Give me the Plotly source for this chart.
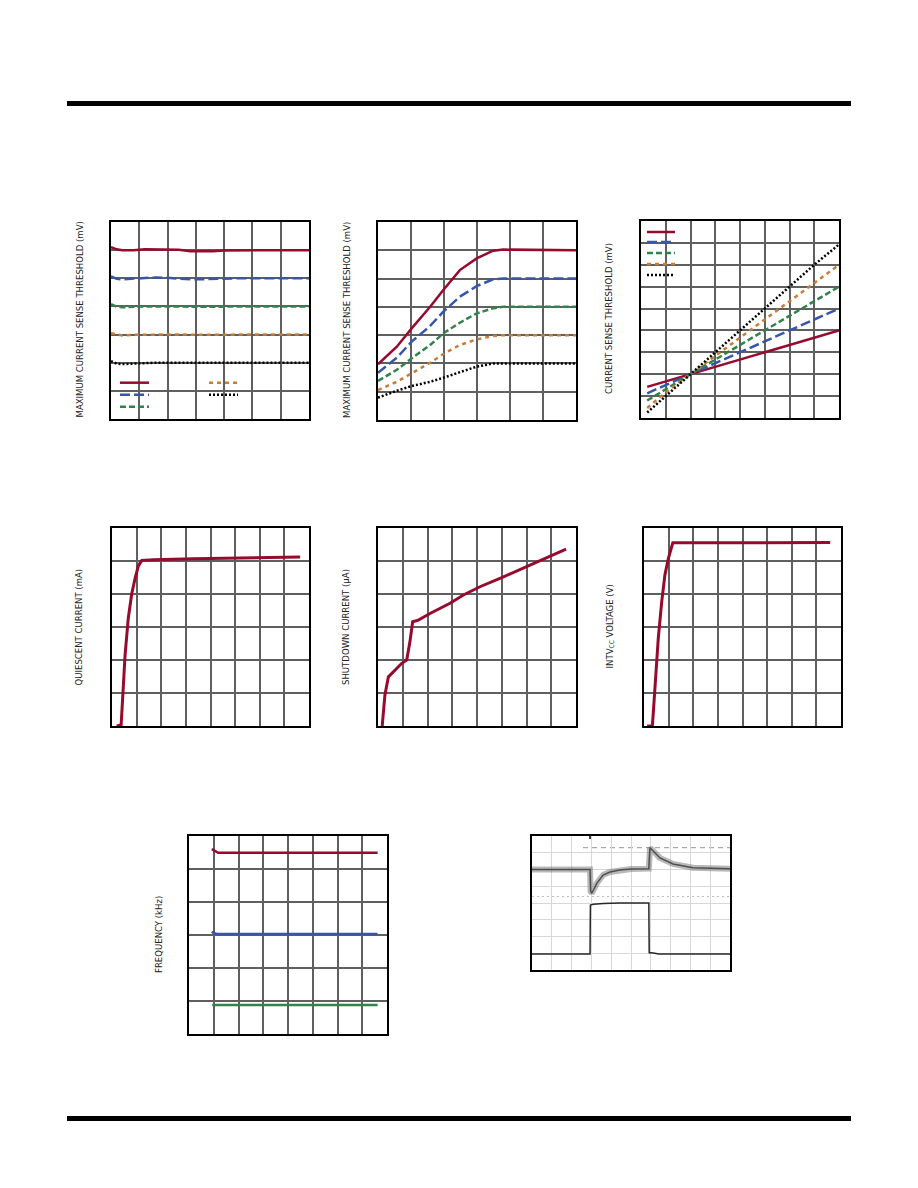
import plotly.graph_objects as go

W, H = 918, 1188

# ---------------- DATA ----------------
# Chart 1: max current-sense threshold vs temperature (five settings)
temp_c = [-50, -45, -40, -30, -20, -10, 0, 10, 20, 30, 40, 50, 60, 70, 80, 90, 100, 110, 125]
c1_red = [122.2, 120.6, 120.0, 120.0, 120.6, 120.6, 120.5, 120.3, 119.2, 119.1, 119.2, 119.8, 120.0, 120.0, 120.0, 120.0, 120.0, 120.0, 120.0]
c1_blue = [101.4, 99.6, 99.3, 99.6, 100.4, 100.6, 100.3, 99.6, 99.3, 99.3, 99.6, 100.0, 100.0, 100.0, 100.0, 100.0, 100.0, 100.0, 100.0]
c1_green = [81.6, 79.8, 79.4, 79.8, 80.0, 80.0, 80.2, 79.9, 79.8, 79.8, 80.0, 80.1, 80.0, 79.9, 80.0, 80.0, 80.0, 80.0, 80.0]
c1_orange = [61.0, 60.0, 59.3, 59.8, 60.0, 60.1, 60.0, 60.1, 59.9, 60.0, 60.1, 60.0, 60.0, 60.0, 60.0, 60.0, 60.0, 60.0, 60.0]
c1_black = [41.1, 39.4, 39.0, 39.4, 39.8, 40.0, 40.0, 40.0, 40.0, 40.0, 40.0, 40.0, 40.0, 40.0, 40.0, 40.0, 40.0, 40.0, 40.0]

# Chart 2: max current-sense threshold rising then flat
c2_x = [0.0, 0.57, 1.02, 1.58, 1.98, 2.48, 2.99, 3.49, 3.8, 5.0, 6.0]
c2_red = [39.4, 51.8, 64.8, 80.1, 91.9, 106.0, 114.3, 119.7, 120.5, 120.5, 120.0]
c2_blue = [33.4, 44.0, 55.4, 66.5, 76.6, 87.2, 94.7, 99.5, 100.0, 100.0, 100.0]
c2_green = [27.6, 35.5, 43.6, 53.0, 61.3, 68.8, 75.4, 79.0, 80.0, 80.0, 80.0]
c2_orange = [21.2, 27.0, 33.0, 40.5, 46.7, 53.0, 57.0, 59.4, 60.0, 60.0, 60.0]
c2_black = [15.8, 20.7, 24.0, 27.0, 29.9, 34.0, 37.7, 40.0, 40.0, 40.0, 40.0]

# Chart 3: current-sense threshold, linear lines crossing near (2, 2)
c3_x = [0.25, 1, 2, 3, 4, 5, 6, 7, 8]
c3_red = [1.42, 1.67, 2.0, 2.33, 2.67, 3.0, 3.33, 3.67, 4.0]
c3_blue = [1.13, 1.5, 2.0, 2.5, 3.0, 3.5, 4.0, 4.5, 5.0]
c3_green = [0.8, 1.33, 2.0, 2.67, 3.33, 4.0, 4.67, 5.33, 6.0]
c3_orange = [0.46, 1.17, 2.0, 2.83, 3.67, 4.5, 5.33, 6.17, 7.0]
c3_black = [0.25, 1.0, 2.0, 3.0, 4.0, 5.0, 6.0, 7.0, 7.93]

# Chart 4: quiescent current
c4_x = [0.19, 0.37, 0.44, 0.53, 0.66, 0.8, 0.93, 1.07, 1.21, 1.68, 3.31, 5.2, 7.64]
c4_y = [0.0, 0.03, 0.94, 2.14, 3.26, 4.0, 4.45, 4.85, 5.02, 5.04, 5.07, 5.09, 5.12]

# Chart 5: shutdown current
c5_x = [0.17, 0.28, 0.42, 0.62, 0.96, 1.16, 1.29, 1.4, 1.63, 2.1, 2.91, 3.45, 4.12, 5.07, 6.14, 6.95, 7.6]
c5_y = [0.0, 0.94, 1.49, 1.65, 1.9, 2.0, 2.55, 3.16, 3.21, 3.41, 3.72, 3.97, 4.22, 4.52, 4.88, 5.13, 5.36]

# Chart 6: INTVCC voltage
c6_x = [0.13, 0.34, 0.38, 0.45, 0.58, 0.72, 0.85, 0.99, 1.13, 1.17, 7.56]
c6_y = [0.0, 0.01, 0.43, 1.14, 2.66, 3.77, 4.58, 5.08, 5.48, 5.55, 5.56]

# Chart 7: switching frequency (three settings)
c7_red_x = [0.92, 1.0, 1.18, 7.62]
c7_red_y = [5.6, 5.57, 5.49, 5.49]
c7_blue_x = [0.92, 1.0, 1.12, 7.62]
c7_blue_y = [3.1, 3.06, 3.03, 3.03]
c7_green_x = [0.94, 7.62]
c7_green_y = [0.88, 0.88]

# Chart 8: load-transient scope capture (divisions)
c8_top_x = [0.0, 2.93, 2.96, 3.02, 3.28, 3.59, 3.94, 4.44, 5.0, 5.9, 5.93, 5.96, 6.46, 7.12, 8.13, 10.0]
c8_top_y = [6.0, 6.0, 4.7, 4.58, 5.19, 5.67, 5.85, 5.97, 6.03, 6.05, 6.8, 7.3, 6.69, 6.33, 6.11, 6.05]
c8_low_x = [0.0, 2.93, 2.95, 3.1, 3.6, 4.4, 5.9, 5.92, 5.95, 6.2, 6.4, 10.0]
c8_low_y = [0.96, 0.96, 3.88, 3.92, 3.97, 4.0, 4.0, 1.0, 1.04, 1.0, 0.96, 0.96]

# ---------------- STYLE ----------------
RED = "rgb(150,10,45)"
BLUE = "rgb(55,85,170)"
GREEN = "rgb(50,130,75)"
ORANGE = "rgb(200,125,55)"
BLACK = "rgb(0,0,0)"
DASH = {"red": "solid", "blue": "10px,4px", "green": "6px,3px", "orange": "4px,4px", "black": "2px,2px"}
COL = {"red": RED, "blue": BLUE, "green": GREEN, "orange": ORANGE, "black": BLACK}

# plot boxes in page pixels (x0, y0, x1, y1)
boxes = [
    (111, 222, 309, 419),
    (378, 222, 576, 420),
    (641, 221, 839, 418),
    (112, 528, 309, 726),
    (378, 528, 576, 726),
    (644, 528, 841, 726),
    (189, 836, 387, 1034),
    (532, 836, 730, 970),
]
ranges = [
    ((-50, 125), 25, (0, 140), 20),
    ((0, 6), 1, (0, 140), 20),
    ((0, 8), 1, (0, 9), 1),
    ((0, 8), 1, (0, 6), 1),
    ((0, 8), 1, (0, 6), 1),
    ((0, 8), 1, (0, 6), 1),
    ((0, 8), 1, (0, 6), 1),
    ((0, 10), 1, (0, 8), 1),
]


def px(x):
    return x / W


def py(y):
    return 1 - y / H


fig = go.Figure()
layout = dict(
    width=W, height=H, margin=dict(l=0, r=0, t=0, b=0),
    paper_bgcolor="white", plot_bgcolor="white", showlegend=False,
)

for i, (b, r) in enumerate(zip(boxes, ranges)):
    n = "" if i == 0 else str(i + 1)
    scope = i == 7
    grid_col = "rgb(215,215,215)" if scope else "rgb(95,95,95)"
    grid_w = 1 if scope else 1.5
    common = dict(showgrid=True, gridcolor=grid_col, gridwidth=grid_w, zeroline=False,
                  showticklabels=False, ticks="", showline=True, mirror=True,
                  linecolor="black", linewidth=1.5, fixedrange=True)
    layout["xaxis" + n] = dict(domain=[px(b[0]), px(b[2])], range=list(r[0]), dtick=r[1],
                               tick0=r[0][0], anchor="y" + n, **common)
    layout["yaxis" + n] = dict(domain=[py(b[3]), py(b[1])], range=list(r[2]), dtick=r[3],
                               tick0=r[2][0], anchor="x" + n, **common)


def add(x, y, key, ax, width=2.5, color=None, dash=None):
    n = "" if ax == 1 else str(ax)
    fig.add_trace(go.Scatter(x=x, y=y, mode="lines", xaxis="x" + n, yaxis="y" + n,
                             line=dict(color=color or COL[key], width=width,
                                       dash=dash or DASH[key]),
                             hoverinfo="skip"))


for key, ys in zip(["red", "blue", "green", "orange", "black"],
                   [c1_red, c1_blue, c1_green, c1_orange, c1_black]):
    add(temp_c, ys, key, 1)
for key, ys in zip(["red", "blue", "green", "orange", "black"],
                   [c2_red, c2_blue, c2_green, c2_orange, c2_black]):
    add(c2_x, ys, key, 2)
for key, ys in zip(["red", "blue", "green", "orange", "black"],
                   [c3_red, c3_blue, c3_green, c3_orange, c3_black]):
    add(c3_x, ys, key, 3)
add(c4_x, c4_y, "red", 4, width=3)
add(c5_x, c5_y, "red", 5, width=3)
add(c6_x, c6_y, "red", 6, width=3)
add(c7_red_x, c7_red_y, "red", 7, width=2.5)
add(c7_blue_x, c7_blue_y, "blue", 7, width=2.5, dash="solid")
add(c7_green_x, c7_green_y, "green", 7, width=2.5, dash="solid")
# scope traces
add(c8_top_x, c8_top_y, "black", 8, width=6, color="rgba(115,115,115,0.5)", dash="solid")
add(c8_top_x, c8_top_y, "black", 8, width=1.5, color="rgba(60,60,60,0.85)", dash="solid")
add(c8_low_x, c8_low_y, "black", 8, width=1.5, color="rgb(40,40,40)", dash="solid")

shapes = []


def rect(x0, y0, x1, y1, color="white", layer="between"):
    shapes.append(dict(type="rect", xref="paper", yref="paper", x0=px(x0), x1=px(x1),
                       y0=py(y1), y1=py(y0), fillcolor=color, line=dict(width=0), layer=layer))


def seg(x0, y0, x1, y1, color, dash="solid", width=2.5, layer="above"):
    shapes.append(dict(type="line", xref="paper", yref="paper", x0=px(x0), x1=px(x1),
                       y0=py(y0), y1=py(y1), line=dict(color=color, width=width, dash=dash),
                       layer=layer))


# header / footer rules
rect(67, 101, 851, 106, color="black", layer="above")
rect(67, 1116, 851, 1121, color="black", layer="above")

# blank legend / label areas hiding the grid
rect(114, 373, 291, 416)          # chart 1 legend
rect(644, 223, 757, 285)          # chart 3 legend
rect(500, 226, 560, 245)          # chart 2 label areas
rect(275, 858, 304, 871)          # chart 7 label areas
rect(284, 920, 294, 936)
rect(284, 988, 294, 1003)
rect(270, 997, 308, 1004)

# chart 1 legend samples
for key, (x0, y) in zip(["red", "blue", "green", "orange", "black"],
                        [(120, 382.7), (120, 394.7), (120, 406.7), (209, 382.7), (209, 394.7)]):
    seg(x0, y, x0 + 29, y, COL[key], DASH[key])
# chart 3 legend samples
for key, y in zip(["red", "blue", "green", "orange", "black"], [232, 242, 253, 264, 275]):
    seg(647, y, 675, y, COL[key], DASH[key])

# scope reference lines
seg(583, 847.7, 730, 847.7, "rgb(150,150,150)", dash="5px,4px", width=1, layer="below")
seg(583, 852.5, 730, 852.5, "rgb(210,210,210)", width=1, layer="below")
seg(532, 896.5, 730, 896.5, "rgb(190,190,190)", dash="2px,3px", width=1, layer="below")
seg(590, 836, 590, 839, "rgb(60,60,60)", width=2)

layout["shapes"] = shapes

titles = [
    ("MAXIMUM CURRENT SENSE THRESHOLD (mV)", 79, 319.5),
    ("MAXIMUM CURRENT SENSE THRESHOLD (mV)", 346, 320),
    ("CURRENT SENSE THRESHOLD (mV)", 608, 319),
    ("QUIESCENT CURRENT (mA)", 78, 627.5),
    ("SHUTDOWN CURRENT (µA)", 345, 627),
    ("INTV<sub>CC</sub> VOLTAGE (V)", 610, 626.5),
    ("FREQUENCY (kHz)", 158, 935),
]
layout["annotations"] = [
    dict(text=t, x=px(x), y=py(y), xref="paper", yref="paper", showarrow=False,
         textangle=-90, xanchor="center", yanchor="middle",
         font=dict(family="DejaVu Sans Condensed", size=9.5, color="#222"))
    for t, x, y in titles
]

fig.update_layout(**layout)
fig.write_html("out.html", config={"displayModeBar": False},
               post_script="document.body.style.margin='0px';document.body.style.overflow='hidden';")
